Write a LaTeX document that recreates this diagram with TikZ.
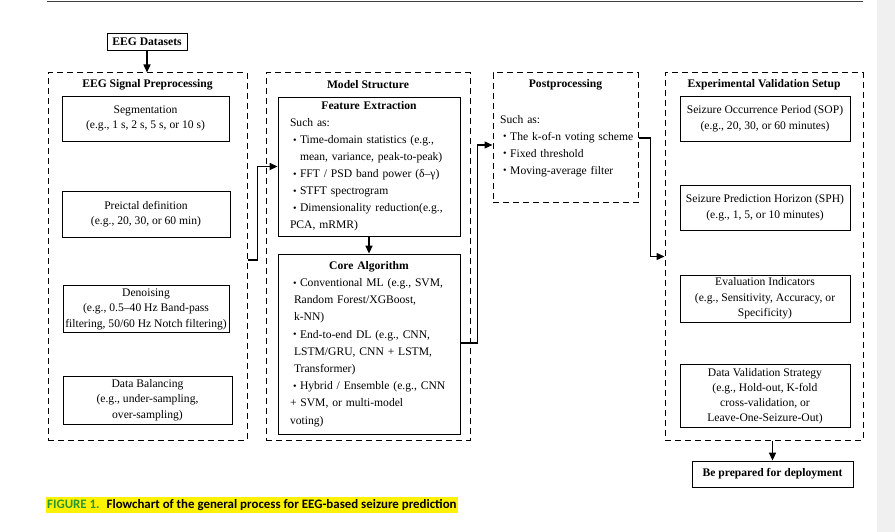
\documentclass[tikz,border=0pt]{standalone}
\usepackage{fontspec}
\setmainfont{Liberation Serif}
\newfontfamily\captionsans{Carlito}
\usetikzlibrary{arrows.meta}
\setlength{\parindent}{0pt}
\definecolor{figgreen}{RGB}{40,150,50}
\newcommand\bitem[2][10pt]{\par\hangindent=#1\hangafter=1\noindent
  \hspace*{3pt}\makebox[7pt][l]{\raisebox{0.5pt}{\fontsize{10}{10}\selectfont\textbullet}}#2}

\begin{document}
\begin{tikzpicture}
    [x=1pt,y=-1pt,
     every node/.style={font=\fontsize{11.6}{15.5}\selectfont},
     wh/.style 2 args={minimum width=#1pt,minimum height=#2pt},
     group/.style={draw,dash pattern=on 6pt off 4pt,line width=1pt,inner sep=0pt},
     stage/.style={draw,line width=0.8pt,align=center,inner sep=0pt},
     panel/.style={draw,line width=0.8pt},
     title/.style={font=\fontsize{11.6}{16}\selectfont\bfseries},
     list/.style={align=left,text width=#1,inner sep=0pt,font=\fontsize{11.6}{17}\selectfont},
     flow/.style={line width=1.4pt,-{Triangle[length=8pt,width=7pt]}}]
    \useasboundingbox (0,0) rectangle (895,532);
    \fill[black!6] (877,0) rectangle (895,532);
    \draw[black!75,line width=0.8pt] (47,1.5) -- (863,1.5);

    \node[stage,title,wh={80}{17}] (data) at (147,41.5) {EEG Datasets};

    % preprocessing
    \node[group,wh={199}{367}] (pre) at (147.5,256.5) {};
    \node[title] (pretitle) at (147.5,85) {EEG Signal Preprocessing};
    \node[stage,wh={167}{45}] (seg) at (145.5,118.5) {Segmentation\\(e.g., 1 s, 2 s, 5 s, or 10 s)};
    \node[stage,wh={168}{46}] (preictal) at (146,214) {Preictal definition\\(e.g., 20, 30, or 60 min)};
    \node[stage,wh={166}{47}] (denoise) at (146,309) {Denoising\\(e.g., 0.5–40 Hz Band-pass\\filtering, 50/60 Hz Notch filtering)};
    \node[stage,wh={169}{48}] (balance) at (147.5,400) {Data Balancing\\(e.g., under-sampling,\\over-sampling)};

    % model
    \node[group,wh={204}{367}] (model) at (368,256.5) {};
    \node[title] (modeltitle) at (368,85) {Model Structure};
    \node[panel,list=158,wh={182}{139}] (fe) at (369,166.5) {%
      {\centering\bfseries Feature Extraction\par}
      Such as:
      \bitem{Time-domain statistics (e.g.,\newline mean, variance, peak-to-peak)}
      \bitem{FFT / PSD band power (δ–γ)}
      \bitem{STFT spectrogram}
      \bitem{Dimensionality reduction(e.g.,\newline PCA, mRMR)}};
    \node[panel,list=158,wh={182}{180},font=\fontsize{11.6}{17.2}\selectfont] (ca) at (369,344) {%
      {\centering\bfseries Core Algorithm\par}
      \bitem[4pt]{Conventional ML (e.g., SVM,\newline Random Forest/XGBoost,\newline k-NN)}
      \bitem[4pt]{End-to-end DL (e.g., CNN,\newline LSTM/GRU, CNN + LSTM,\newline Transformer)}
      \bitem[4pt]{Hybrid / Ensemble (e.g., CNN\newline + SVM, or multi-model\newline voting)}};

    % postprocessing
    \node[group,wh={145}{130}] (post) at (565.5,138) {};
    \node[title] (posttitle) at (565.5,85) {Postprocessing};
    \node[list=150,anchor=west] (postlist) at (500,146) {%
      Such as:
      \bitem{The k-of-n voting scheme}
      \bitem{Fixed threshold}
      \bitem{Moving-average filter}};

    % validation
    \node[group,wh={198}{367}] (valid) at (764,256.5) {};
    \node[title] (validtitle) at (764,85) {Experimental Validation Setup};
    \node[stage,wh={170}{45}] (sop) at (765,118.5) {Seizure Occurrence Period (SOP)\\(e.g., 20, 30, or 60 minutes)};
    \node[stage,wh={170}{45}] (sph) at (765,207.5) {Seizure Prediction Horizon (SPH)\\(e.g., 1, 5, or 10 minutes)};
    \node[stage,wh={170}{47}] (evalu) at (765,298.5) {Evaluation Indicators\\(e.g., Sensitivity, Accuracy, or\\Specificity)};
    \node[stage,wh={170}{63},font=\fontsize{11.6}{15}\selectfont] (dvs) at (765,396) {Data Validation Strategy\\(e.g., Hold-out, K-fold\\cross-validation, or\\Leave-One-Seizure-Out)};
    \node[stage,title,wh={161}{26}] (deploy) at (772.5,474) {Be prepared for deployment};

    \draw[flow] (data) -- (data |- pre.north);
    \draw[flow] ([yshift=-3.5pt]pre.east) -- ++(10,0) |- (fe.west);
    \draw[flow] (fe) -- (ca);
    \draw[flow] ([yshift=1pt]ca.east) -- ++(17,0) |- ([yshift=-7pt]post.west);
    \draw[flow] (post.east) -- ++(12,0) |- (valid.west);
    \draw[flow] (deploy.north |- valid.south) -- (deploy);

    \node[fill=yellow,anchor=west,inner xsep=1pt,inner ysep=0pt,minimum height=16pt,
      font=\captionsans\bfseries\fontsize{12.9}{15}\selectfont] (caption) at (46,505)
      {{\color{figgreen}FIGURE 1.}\hspace{7pt}Flowchart of the general process for EEG-based seizure prediction};
\end{tikzpicture}
\end{document}
